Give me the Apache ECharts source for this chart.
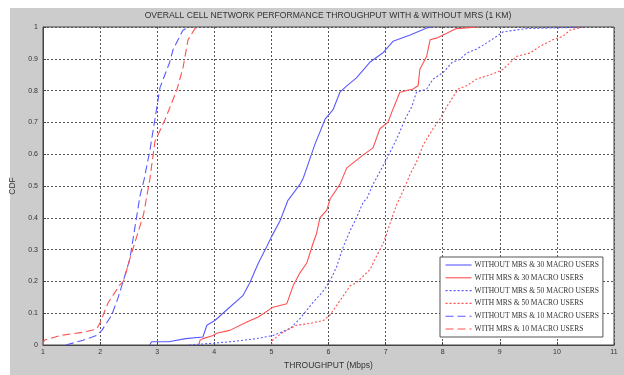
<!DOCTYPE html>
<html>
<head>
<meta charset="utf-8">
<script src="https://cdn.jsdelivr.net/npm/echarts@6/dist/echarts.min.js"></script>
<style>
  html, body {margin:0; padding:0; background:#fff;}
  #chart {width:624px; height:375px;}
</style>
</head>
<body>
<div id="chart"></div>
<script type="text/javascript">
  // CDF points: [throughput Mbps, cdf]
  var withoutMrs30 = [[2.87,0],[2.9,0.01],[3.2,0.01],[3.5,0.02],[3.8,0.025],[3.87,0.062],[4.01,0.077],[4.24,0.114],[4.5,0.155],[4.62,0.195],[4.77,0.257],[4.92,0.31],[5.0,0.34],[5.15,0.39],[5.29,0.455],[5.5,0.505],[5.56,0.526],[5.62,0.557],[5.76,0.63],[5.94,0.71],[6.08,0.74],[6.2,0.795],[6.32,0.815],[6.49,0.84],[6.73,0.89],[6.96,0.92],[7.13,0.955],[7.43,0.975],[7.72,0.997],[7.83,1]];
  var withMrs30 = [[3.73,0],[3.75,0.015],[3.8,0.02],[3.98,0.03],[4.04,0.037],[4.27,0.046],[4.57,0.072],[4.77,0.088],[5.03,0.119],[5.27,0.13],[5.38,0.186],[5.5,0.227],[5.62,0.258],[5.73,0.32],[5.79,0.35],[5.85,0.4],[5.97,0.424],[6.03,0.46],[6.2,0.505],[6.32,0.557],[6.61,0.598],[6.78,0.62],[6.9,0.68],[7.04,0.7],[7.11,0.733],[7.25,0.795],[7.48,0.805],[7.57,0.815],[7.6,0.867],[7.72,0.908],[7.78,0.96],[7.89,0.965],[8.07,0.98],[8.24,0.995],[8.62,1]];
  var withoutMrs50 = [[3.56,0],[3.58,0.005],[4.0,0.006],[4.27,0.01],[4.74,0.02],[5.03,0.03],[5.33,0.052],[5.5,0.083],[5.73,0.134],[5.91,0.17],[6.03,0.203],[6.14,0.245],[6.26,0.31],[6.38,0.36],[6.49,0.4],[6.61,0.45],[6.67,0.46],[6.78,0.505],[7.02,0.585],[7.2,0.65],[7.34,0.71],[7.46,0.75],[7.54,0.795],[7.72,0.805],[7.83,0.836],[8.01,0.857],[8.16,0.888],[8.3,0.898],[8.42,0.918],[8.59,0.93],[8.77,0.95],[8.94,0.97],[9.06,0.985],[9.47,0.995],[10.2,0.998],[10.5,1]];
  var withMrs50 = [[5.0,0],[5.02,0.015],[5.2,0.04],[5.44,0.062],[5.68,0.068],[5.91,0.077],[6.03,0.095],[6.14,0.124],[6.26,0.155],[6.38,0.186],[6.49,0.196],[6.61,0.217],[6.73,0.238],[6.84,0.279],[6.96,0.32],[7.02,0.35],[7.11,0.4],[7.2,0.444],[7.31,0.486],[7.43,0.537],[7.54,0.575],[7.66,0.63],[7.83,0.68],[7.95,0.71],[8.07,0.749],[8.27,0.805],[8.42,0.815],[8.59,0.836],[8.77,0.846],[8.94,0.857],[9.06,0.867],[9.18,0.888],[9.3,0.908],[9.53,0.918],[9.7,0.939],[9.93,0.96],[10.1,0.97],[10.23,0.99],[10.45,1]];
  var withoutMrs10 = [[1.4,0],[1.42,0.005],[1.7,0.015],[1.94,0.03],[2.03,0.046],[2.2,0.093],[2.31,0.146],[2.4,0.198],[2.52,0.27],[2.61,0.37],[2.7,0.47],[2.77,0.52],[2.87,0.61],[2.96,0.71],[3.05,0.81],[3.22,0.89],[3.28,0.93],[3.45,0.99],[3.57,1]];
  var withMrs10 = [[1.0,0],[1.02,0.015],[1.3,0.03],[1.7,0.04],[1.94,0.05],[2.0,0.07],[2.14,0.133],[2.35,0.19],[2.41,0.2],[2.52,0.27],[2.64,0.34],[2.76,0.41],[2.87,0.52],[2.96,0.64],[3.14,0.71],[3.34,0.8],[3.45,0.87],[3.54,0.96],[3.66,0.995],[3.72,1]];

  var seriesNames = ['WITHOUT MRS & 30 MACRO USERS', 'WITH MRS & 30 MACRO USERS',
                     'WITHOUT MRS & 50 MACRO USERS', 'WITH MRS & 50 MACRO USERS',
                     'WITHOUT MRS & 10 MACRO USERS', 'WITH MRS & 10 MACRO USERS'];
  var seriesData = [withoutMrs30, withMrs30, withoutMrs50, withMrs50, withoutMrs10, withMrs10];

  var blue = '#5a5aff', red = '#ff5050';
  var colors = [blue, red, blue, red, blue, red];
  var dashes = ['solid', 'solid', [2, 2], [2, 2], [8, 4], [8, 4]];

  var series = [];
  for (var i = 0; i < seriesData.length; i++) {
    series.push({
      name: seriesNames[i],
      type: 'line',
      data: seriesData[i],
      showSymbol: false,
      symbol: 'none',
      animation: false,
      lineStyle: {color: colors[i], width: 1.1, type: dashes[i]},
      itemStyle: {color: colors[i]}
    });
  }

  var chart = echarts.init(document.getElementById('chart'));
  chart.setOption({
    backgroundColor: '#fff',
    animation: false,
    graphic: [
      {type: 'rect', z: -10, shape: {x: 10, y: 8, width: 614, height: 367}, style: {fill: '#cccccc'}},
      {type: 'text', z: 10, x: 328, y: 16,
       style: {text: 'OVERALL CELL NETWORK PERFORMANCE THROUGHPUT WITH & WITHOUT MRS (1 KM)',
               fill: '#333', font: '8.6px "Liberation Sans"', textAlign: 'center', textVerticalAlign: 'middle'}}
    ],
    grid: {left: 43, right: 10, top: 27, bottom: 25, show: true, backgroundColor: '#fff', borderColor: '#444', borderWidth: 1},
    legend: {
      orient: 'vertical', left: 440, top: 257,
      padding: [4, 4, 4, 5],
      itemWidth: 26, itemHeight: 8, itemGap: 4.8,
      itemStyle: {opacity: 0},
      lineStyle: {width: 1.1},
      backgroundColor: '#fff', borderColor: '#555', borderWidth: 1,
      textStyle: {fontFamily: '"Liberation Serif"', fontSize: 7.5, color: '#333', padding: [0, 0, 0, -2]},
      data: seriesNames
    },
    xAxis: {
      type: 'value', min: 1, max: 11, interval: 1,
      name: 'THROUGHPUT (Mbps)', nameLocation: 'middle', nameGap: 16,
      nameTextStyle: {fontFamily: '"Liberation Sans"', fontSize: 8.5, color: '#333'},
      axisLine: {lineStyle: {color: '#444'}},
      axisTick: {inside: true, length: 3, lineStyle: {color: '#444'}},
      axisLabel: {fontSize: 7, color: '#333', margin: 4, fontFamily: '"Liberation Sans"'},
      splitLine: {show: true, lineStyle: {color: '#555', type: [2, 2], width: 1}}
    },
    yAxis: {
      type: 'value', min: 0, max: 1, interval: 0.1,
      name: 'CDF', nameLocation: 'middle', nameGap: 22,
      nameTextStyle: {fontFamily: '"Liberation Sans"', fontSize: 8.5, color: '#333'},
      axisLine: {show: true, lineStyle: {color: '#444'}},
      axisTick: {show: true, inside: true, length: 3, lineStyle: {color: '#444'}},
      axisLabel: {fontSize: 7, color: '#333', margin: 5, fontFamily: '"Liberation Sans"',
                  formatter: function (v) { return Math.round(v * 10) / 10; }},
      splitLine: {show: true, lineStyle: {color: '#555', type: [2, 2], width: 1}}
    },
    series: series
  });
</script>
</body>
</html>
